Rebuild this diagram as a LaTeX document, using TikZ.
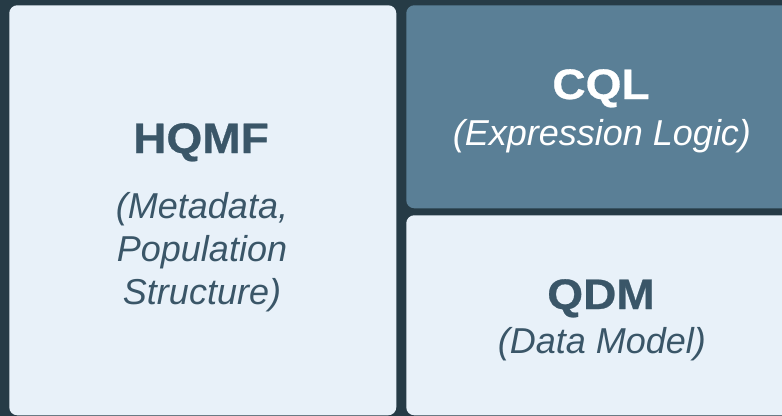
\documentclass[tikz,border=0pt]{standalone}
\usepackage{fontspec}
\setmainfont{Liberation Sans}
\newfontfamily\headfont[FakeStretch=1.08,FakeBold=0.6]{Liberation Sans}
\definecolor{bgdark}{HTML}{263B46}
\definecolor{lightfill}{HTML}{E8F1F9}
\definecolor{bluefill}{HTML}{5A7F96}
\definecolor{inkdark}{HTML}{3A5668}
\begin{document}
\begin{tikzpicture}[x=0.75pt,y=-0.75pt,
  panel/.style={rectangle, rounded corners=6pt, inner sep=0pt, anchor=north west, draw=none},
  title/.style={anchor=base, inner sep=0pt, font=\headfont\bfseries\fontsize{32}{36}\selectfont},
  sub/.style={anchor=base, inner sep=0pt, align=center, font=\itshape\fontsize{27}{32}\selectfont}]
\useasboundingbox (0,0) rectangle (782,415);
\fill[bgdark] (-2,-2) rectangle (784,417);
\node[panel, fill=lightfill, minimum width=290.25pt, minimum height=307.5pt] (hqmfbox) at (9,5) {};
\node[panel, fill=bluefill, minimum width=292.5pt, minimum height=152.25pt] (cqlbox) at (406,5) {};
\node[panel, fill=lightfill, minimum width=292.5pt, minimum height=150pt] (qdmbox) at (406,215) {};
\node[title, text=inkdark] (hqmf) at (201,153) {HQMF};
\node[sub, text=inkdark] (hqmfsub) at (202,304) {(Metadata,\\Population\\Structure)};
\node[title, text=white] (cql) at (601,99) {CQL};
\node[sub, text=white] (cqlsub) at (602,145) {(Expression Logic)};
\node[title, text=inkdark] (qdm) at (601,309) {QDM};
\node[sub, text=inkdark] (qdmsub) at (602,353) {(Data Model)};
\end{tikzpicture}
\end{document}
